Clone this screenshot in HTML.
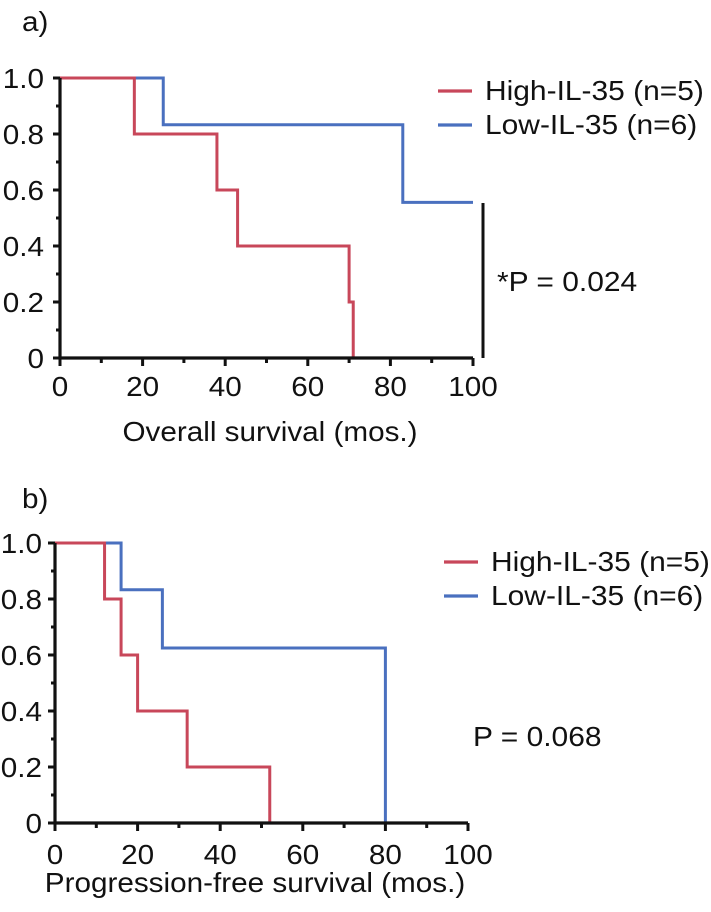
<!DOCTYPE html>
<html><head><meta charset="utf-8"><style>
html,body{margin:0;padding:0;background:#fff;}
svg{display:block;font-family:"Liberation Sans",Arial,sans-serif;}
</style></head><body>
<svg id="svg" width="711" height="912" viewBox="0 0 711 912" xmlns="http://www.w3.org/2000/svg"></svg>
<script>
// Panel a data
const aHighTimes = [0, 18, 38, 43, 70, 71];
const aHighSurv = [1.0, 0.8, 0.6, 0.4, 0.2, 0];
const aLowTimes = [0, 25, 83, 100];
const aLowSurv = [1.0, 0.833, 0.556, 0.556];
// Panel b data
const bHighTimes = [0, 12, 16, 20, 32, 52];
const bHighSurv = [1.0, 0.8, 0.6, 0.4, 0.2, 0];
const bLowTimes = [0, 16, 26, 80];
const bLowSurv = [1.0, 0.833, 0.625, 0];
const xTicks = [0, 20, 40, 60, 80, 100];
const yTicks = [0, 0.2, 0.4, 0.6, 0.8, 1.0];
const yTickLabels = ["0", "0.2", "0.4", "0.6", "0.8", "1.0"];
const legendLabels = ["High-IL-35 (n=5)", "Low-IL-35 (n=6)"];

const NS = "http://www.w3.org/2000/svg";
const svg = document.getElementById('svg');
const RED = "#c8475a", BLUE = "#4a70bf";
const FS = 28, SX = 1.06;
function el(tag, attrs, parent) {
  const e = document.createElementNS(NS, tag);
  for (const k in attrs) e.setAttribute(k, attrs[k]);
  (parent || svg).appendChild(e);
  return e;
}
function txt(s, x, y, size, anchor, sx, parent) {
  const t = el('text', {transform: `translate(${x},${y}) scale(${sx},1)`, 'font-size': size, 'text-anchor': anchor, fill: '#111'}, parent);
  t.textContent = s;
  return t;
}

function panel(name, P, hiT, hiS, loT, loS, title) {
  const g = el('g', {});
  
  
  const X = v => P.x0 + (P.x1 - P.x0) * v / 100;
  const Y = v => P.y0 - (P.y0 - P.y1) * v;
  function stepPath(T, S) {
    let d = `M${X(T[0])},${Y(S[0])}`;
    for (let i = 1; i < T.length; i++) {
      d += ` H${X(T[i])} V${Y(S[i])}`;
    }
    return d;
  }
  const lo = el('path', {d: stepPath(loT, loS), fill: 'none', stroke: BLUE, 'stroke-width': 3}, g);
  
  
  const hi = el('path', {d: stepPath(hiT, hiS), fill: 'none', stroke: RED, 'stroke-width': 3}, g);
  
  
  const ax = el('path', {d: `M${P.x0},${Y(1)} V${P.y0} H${X(100)}`, fill: 'none', stroke: '#111', 'stroke-width': 3.2}, g);
  
  
  for (let v = 0; v <= 100; v += 10) {
    const big = v % 20 === 0;
    el('line', {x1: X(v), x2: X(v), y1: P.y0, y2: P.y0 + (big ? 8 : 5), stroke: '#111', 'stroke-width': 3}, g);
  }
  for (let i = 0; i <= 10; i++) {
    const big = i % 2 === 0;
    el('line', {x1: P.x0, x2: P.x0 - (big ? 7 : 4), y1: Y(i / 10), y2: Y(i / 10), stroke: '#111', 'stroke-width': 3}, g);
  }
  xTicks.forEach(v => {
    const t = txt(String(v), X(v), P.xlabY, FS, 'middle', SX, g);
    
    
  });
  yTicks.forEach((v, i) => {
    const t = txt(yTickLabels[i], P.x0 - P.lblGap, Y(v) + 10, FS, 'end', SX, g);
    
    
  });
  const tt = txt(title, P.titleX, P.titleY, FS, 'middle', SX, g);
  
  
  [RED, BLUE].forEach((c, i) => {
    const lg = el('g', {}, g);
    
    
    el('line', {x1: P.lx, x2: P.lx + 34, y1: P.ly[i], y2: P.ly[i], stroke: c, 'stroke-width': 3.2}, lg);
    txt(legendLabels[i], P.lx + 47, P.ly[i] + 9, FS, 'start', 1.07, lg);
  });
}

panel('panel-a-overall-survival', {x0: 60, x1: 473, y0: 358, y1: 78, xlabY: 396, titleX: 270, titleY: 441, lx: 438, ly: [91, 125], lblGap: 16},
  aHighTimes, aHighSurv, aLowTimes, aLowSurv, 'Overall survival (mos.)');
panel('panel-b-progression-free-survival', {x0: 55, x1: 468, y0: 823, y1: 543, xlabY: 864, titleX: 255, titleY: 892, lx: 444, ly: [562, 596], lblGap: 13},
  bHighTimes, bHighSurv, bLowTimes, bLowSurv, 'Progression-free survival (mos.)');

let t;
t = txt('a)', 22, 31, FS, 'start', SX);


t = txt('b)', 22, 508, FS, 'start', SX);


const sig = el('line', {x1: 483, x2: 483, y1: 203, y2: 358, stroke: '#111', 'stroke-width': 3});


t = txt('*P = 0.024', 497, 291, FS, 'start', 1.07);


t = txt('P = 0.068', 473, 746, FS, 'start', 1.07);


</script>
</body></html>
